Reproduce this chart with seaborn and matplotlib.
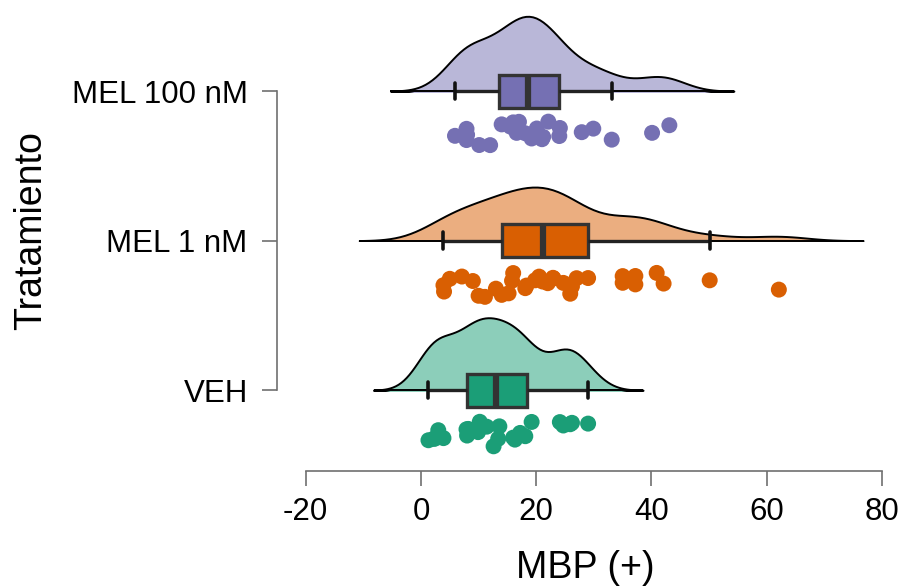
import numpy as np
import pandas as pd
import seaborn as sns
import matplotlib
matplotlib.use("Agg")
import matplotlib.pyplot as plt
from matplotlib.patches import Rectangle
from matplotlib.colors import to_rgba

# ---------------- data ----------------
groups = ["MEL 100 nM", "MEL 1 nM", "VEH"]
mel100 = [5.9, 7.9, 7.9, 8.0, 10.1, 12.0, 14.0, 15.5, 16.0, 16.6, 17.0, 18.1,
          19.2, 20.1, 21.0, 21.2, 22.1, 24.0, 24.1, 27.9, 29.9, 33.1, 40.1, 43.1]
mel1 = [3.9, 4.0, 5.0, 7.1, 9.0, 10.0, 11.1, 13.0, 14.0, 15.2, 15.8, 16.0,
        18.1, 18.3, 19.8, 20.5, 21.1, 22.0, 22.9, 23.0, 24.7, 25.9, 26.2, 27.0,
        29.0, 35.0, 35.0, 37.2, 37.2, 40.9, 42.1, 50.1, 62.1]
veh = [1.3, 2.2, 2.4, 3.0, 3.9, 7.9, 8.0, 8.2, 9.9, 10.2, 11.4, 12.6, 13.6,
       13.4, 16.0, 16.3, 17.2, 18.1, 19.2, 24.1, 24.7, 25.9, 26.2, 29.0]
colors = {"MEL 100 nM": "#7570B3", "MEL 1 nM": "#D95F02", "VEH": "#1B9E77"}
x_ticks = [-20, 0, 20, 40, 60, 80]
x_label = "MBP (+)"
y_label = "Tratamiento"

values = {"MEL 100 nM": mel100, "MEL 1 nM": mel1, "VEH": veh}
df = pd.DataFrame({
    "Tratamiento": [g for g in groups for _ in values[g]],
    "MBP": [v for g in groups for v in values[g]],
})

# ---------------- style ----------------
sns.set_theme(style="ticks")
plt.rcParams["font.family"] = ["Liberation Sans", "DejaVu Sans"]
np.random.seed(3)

fig, ax = plt.subplots(figsize=(9.02, 5.88), dpi=100)
fig.subplots_adjust(left=0.307, right=0.9906, bottom=0.199, top=0.985)

# half violins (clouds): no hue so that area normalisation is shared
n0 = len(ax.collections)
sns.violinplot(data=df, x="MBP", y="Tratamiento", order=groups,
               color="gray", inner=None, cut=3.0, bw_adjust=0.72,
               width=1.0, density_norm="area", linewidth=1.4,
               linecolor="black", saturation=1, ax=ax)
violins = ax.collections[n0:]
for coll in violins:
    verts = np.vstack([p.vertices for p in coll.get_paths()])
    center = int(round(float(np.mean(verts[:, 1]))))
    coll.set_facecolor(to_rgba(colors[groups[center]], 0.5))
    coll.set_clip_path(Rectangle((-200, center - 0.7), 500, 0.7 + 0.004,
                                 transform=ax.transData))
    ax.hlines(center, verts[:, 0].min(), verts[:, 0].max(),
              color="black", lw=1.4, zorder=coll.get_zorder())

# boxes
sns.boxplot(data=df, x="MBP", y="Tratamiento", hue="Tratamiento",
            order=groups, hue_order=groups, palette=colors, width=0.22,
            saturation=1, showfliers=False, whis=1.5, legend=False, ax=ax,
            linewidth=2.4, linecolor="#333333",
            medianprops=dict(color="#333333", linewidth=4.5),
            whiskerprops=dict(color="#222222", linewidth=2.4),
            capprops=dict(color="#111111", linewidth=2.6),
            capwidths=0.11)

# rain (points)
n1 = len(ax.collections)
sns.stripplot(data=df, x="MBP", y="Tratamiento", hue="Tratamiento",
              order=groups, hue_order=groups, palette=colors, jitter=0.09,
              size=11.5, linewidth=0, legend=False, ax=ax)
for coll in ax.collections[n1:]:
    offs = coll.get_offsets()
    if len(offs):
        offs = np.asarray(offs).copy()
        offs[:, 1] += 0.29
        coll.set_offsets(offs)

# ---------------- axes ----------------
ax.set_xlim(-25, 82)
ax.set_ylim(2.54, -0.55)
ax.set_xticks(x_ticks)
ax.set_xticklabels([str(t) for t in x_ticks])
sns.despine(ax=ax)
spine_col = "#707070"
for s in ["left", "bottom"]:
    ax.spines[s].set_color(spine_col)
    ax.spines[s].set_linewidth(1.2)
ax.spines["left"].set_bounds(0, 2)
ax.spines["bottom"].set_bounds(-20, 80)
ax.tick_params(axis="both", colors=spine_col, labelcolor="black",
               labelsize=22.5, length=11, width=1.2)
ax.tick_params(axis="y", pad=10)
ax.tick_params(axis="x", pad=8)

ax.set_xlabel(x_label, fontsize=27, color="black")
ax.set_ylabel(y_label, fontsize=27, color="black")
ax.xaxis.set_label_coords(0.5, -0.172)
ax.yaxis.set_label_coords(-0.37, 0.52)

fig.savefig("out.png", dpi=100)
